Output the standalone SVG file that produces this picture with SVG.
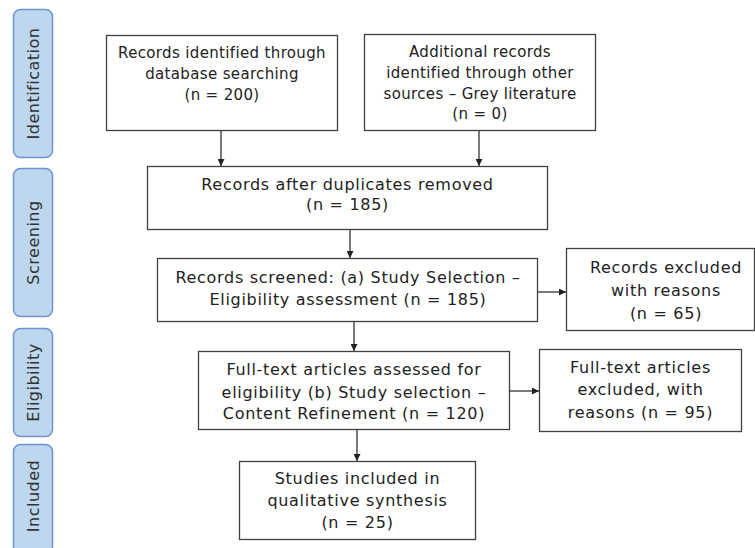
<svg xmlns="http://www.w3.org/2000/svg" width="755" height="548" viewBox="0 0 755 548">
<defs>
<style>
.phase{fill:#bdd7ee;stroke:#6f93cf;stroke-width:1.5}
.ptxt{font-family:"DejaVu Sans",Verdana,sans-serif;font-size:16px;letter-spacing:0.5px;fill:#333;text-anchor:middle}
.box{fill:#fff;stroke:#404040;stroke-width:1.3}
.t13{font-family:"DejaVu Sans",Verdana,sans-serif;font-size:15px;letter-spacing:0.35px;fill:#222;text-anchor:middle}
.t14{font-family:"DejaVu Sans",Verdana,sans-serif;font-size:16px;letter-spacing:0.7px;fill:#222;text-anchor:middle}
.conn{stroke:#222;stroke-width:1.2;fill:none;marker-end:url(#ah)}
</style>
<marker id="ah" viewBox="0 0 10 10" refX="10" refY="5" markerWidth="7" markerHeight="7" markerUnits="userSpaceOnUse" orient="auto">
<path d="M0,0 L10,5 L0,10 z" fill="#222"/>
</marker>
</defs>
<rect width="755" height="548" fill="#fff"/>

<g id="phase-identification">
<rect class="phase" x="13.5" y="9.5" width="39" height="148" rx="7"/>
<text class="ptxt" transform="translate(39,83.5) rotate(-90)">Identification</text>
</g>
<g id="phase-screening">
<rect class="phase" x="13.5" y="168.5" width="39" height="148" rx="7"/>
<text class="ptxt" transform="translate(39,242.5) rotate(-90)">Screening</text>
</g>
<g id="phase-eligibility">
<rect class="phase" x="13.5" y="328.5" width="39" height="108" rx="7"/>
<text class="ptxt" transform="translate(39,382.5) rotate(-90)">Eligibility</text>
</g>
<g id="phase-included">
<rect class="phase" x="13.5" y="444.5" width="39" height="110" rx="7"/>
<text class="ptxt" transform="translate(39,496) rotate(-90)">Included</text>
</g>

<g id="connectors">
<line class="conn" x1="221" y1="130" x2="221" y2="166"/>
<line class="conn" x1="479" y1="130" x2="479" y2="166"/>
<line class="conn" x1="350" y1="230" x2="350" y2="258"/>
<line class="conn" x1="538" y1="292" x2="566" y2="292"/>
<line class="conn" x1="354" y1="322" x2="354" y2="351"/>
<line class="conn" x1="510" y1="391" x2="539" y2="391"/>
<line class="conn" x1="357" y1="430" x2="357" y2="461"/>
</g>

<g id="n-db">
<rect class="box" x="106.5" y="35.5" width="231" height="95"/>
<text class="t13" x="222" y="58">Records identified through</text>
<text class="t13" x="222" y="79">database searching</text>
<text class="t13" x="222" y="100">(n = 200)</text>
</g>
<g id="n-other">
<rect class="box" x="364.5" y="34.5" width="231" height="96"/>
<text class="t13" x="480" y="57">Additional records</text>
<text class="t13" x="480" y="78">identified through other</text>
<text class="t13" x="480" y="99">sources – Grey literature</text>
<text class="t13" x="480" y="119">(n = 0)</text>
</g>
<g id="n-dup">
<rect class="box" x="147.5" y="166.5" width="400" height="63"/>
<text class="t14" x="347.5" y="190">Records after duplicates removed</text>
<text class="t14" x="347.5" y="210">(n = 185)</text>
</g>
<g id="n-screened">
<rect class="box" x="157.5" y="258.5" width="380" height="63"/>
<text class="t14" x="348" y="283">Records screened: (a) Study Selection –</text>
<text class="t14" x="348" y="305">Eligibility assessment (n = 185)</text>
</g>
<g id="n-excl1">
<rect class="box" x="566.5" y="248.5" width="188" height="82"/>
<text class="t14" x="666" y="273">Records excluded</text>
<text class="t14" x="666" y="296">with reasons</text>
<text class="t14" x="666" y="319">(n = 65)</text>
</g>
<g id="n-fulltext">
<rect class="box" x="198.5" y="351.5" width="311" height="78"/>
<text class="t14" x="354" y="375">Full-text articles assessed for</text>
<text class="t14" x="354" y="398">eligibility (b) Study selection –</text>
<text class="t14" x="354" y="419">Content Refinement (n = 120)</text>
</g>
<g id="n-excl2">
<rect class="box" x="539.5" y="349.5" width="202" height="82"/>
<text class="t14" x="640.5" y="373">Full-text articles</text>
<text class="t14" x="640.5" y="395">excluded, with</text>
<text class="t14" x="640.5" y="418">reasons (n = 95)</text>
</g>
<g id="n-included">
<rect class="box" x="239.5" y="461.5" width="236" height="78"/>
<text class="t14" x="357.5" y="484">Studies included in</text>
<text class="t14" x="357.5" y="506">qualitative synthesis</text>
<text class="t14" x="357.5" y="528">(n = 25)</text>
</g>
</svg>
